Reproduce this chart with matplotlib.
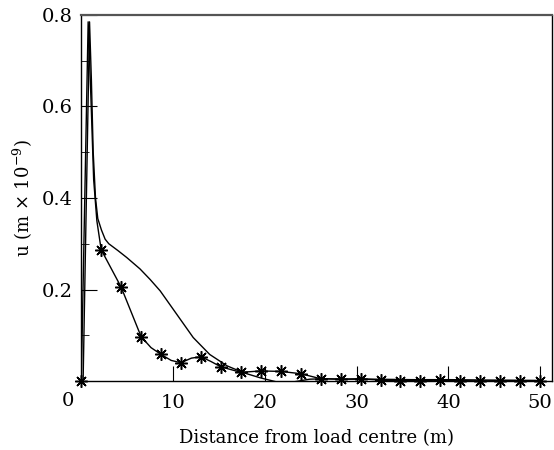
import matplotlib
matplotlib.use('Agg')
import matplotlib.pyplot as plt
import numpy as np

plt.rcParams['font.family'] = 'DejaVu Serif'
plt.rcParams['mathtext.fontset'] = 'dejavuserif'

# series with asterisk markers (marker positions)
star_x = [0.00, 2.17, 4.35, 6.52, 8.70, 10.87, 13.04, 15.22, 17.39, 19.57,
          21.74, 23.91, 26.09, 28.26, 30.43, 32.61, 34.78, 36.96, 39.13,
          41.30, 43.48, 45.65, 47.83, 50.00]
star_y = [0.000, 0.287, 0.205, 0.097, 0.058, 0.040, 0.053, 0.031, 0.019,
          0.022, 0.021, 0.016, 0.005, 0.004, 0.005, 0.002, 0.001, 0.001,
          0.002, 0.001, 0.000, 0.001, 0.001, 0.001]

# the same series, as its drawn line (markers plus in-between points)
star_line_x = [0.00, 0.75, 1.05, 1.35, 1.70, 2.17, 4.35, 6.52, 7.6, 8.70,
               9.8, 10.87, 12.0, 13.04, 14.1, 15.22, 17.39, 19.57, 21.74,
               23.91, 26.09, 28.26, 30.43, 32.61, 34.78, 36.96, 39.13,
               41.30, 43.48, 45.65, 47.83, 50.00]
star_line_y = [0.000, 0.785, 0.62, 0.44, 0.35, 0.287, 0.205, 0.097, 0.073,
               0.058, 0.045, 0.040, 0.050, 0.053, 0.043, 0.031, 0.019, 0.022,
               0.021, 0.016, 0.005, 0.004, 0.005, 0.002, 0.001, 0.001, 0.002,
               0.001, 0.000, 0.001, 0.001, 0.001]

# plain line series
plain_x = [0.20, 0.90, 1.10, 1.30, 1.55, 1.80, 2.20, 2.60, 3.00, 4.00, 4.95,
           6.40, 7.50, 8.60, 10.40, 12.20, 14.00, 15.90, 17.70, 19.50,
           21.30, 23.10, 24.90, 26.50, 28.50, 32.0, 36.0, 40.0, 45.0, 50.0]
plain_y = [0.000, 0.785, 0.66, 0.50, 0.40, 0.355, 0.330, 0.310, 0.300,
           0.285, 0.270, 0.245, 0.222, 0.197, 0.146, 0.095, 0.058, 0.033,
           0.018, 0.007, -0.002, -0.002, 0.004, 0.005, 0.004, 0.004, 0.003,
           0.003, 0.002, 0.001]

yticks = [0.2, 0.4, 0.6, 0.8]
ytick_labels = ['0.2', '0.4', '0.6', '0.8']
xticks = [10, 20, 30, 40, 50]
xtick_labels = ['10', '20', '30', '40', '50']

fig = plt.figure(figsize=(5.54, 4.5), dpi=100)
ax = fig.add_axes([0.1467, 0.1533, 0.8497, 0.8134])

ax.plot(plain_x, plain_y, color='black', lw=1.0)
ax.plot(star_line_x, star_line_y, color='black', lw=1.0)
ax.plot(star_x, star_y, ls='none', marker=(8, 2, 0), ms=9, mew=1.1,
        color='black', clip_on=False)

ax.set_xlim(0, 51.3)
ax.set_ylim(0, 0.8)
ax.set_xticks(xticks)
ax.set_xticklabels(xtick_labels)
ax.set_yticks(yticks)
ax.set_yticklabels(ytick_labels)
ax.set_yticks([0.1, 0.3, 0.5, 0.7], minor=True)
ax.tick_params(axis='both', which='major', direction='in', labelsize=14)
ax.tick_params(axis='y', which='major', length=11.5, pad=6)
ax.tick_params(axis='x', which='major', length=10.8, pad=9)
ax.tick_params(axis='y', which='minor', direction='in', length=6)

for side in ['left', 'bottom', 'right']:
    ax.spines[side].set_linewidth(1.0)
    ax.spines[side].set_color('black')
ax.spines['top'].set_linewidth(1.6)
ax.spines['top'].set_color('#555555')

# shared origin label
ax.annotate('0', xy=(0, 0), xycoords='data', xytext=(-13, -20),
            textcoords='offset pixels', ha='center', va='center', fontsize=14)

ax.set_xlabel('Distance from load centre (m)', fontsize=13, labelpad=13)
ax.set_ylabel('u (m × 10$^{-9}$)', fontsize=13, labelpad=5)

fig.savefig('out.png', dpi=100)
